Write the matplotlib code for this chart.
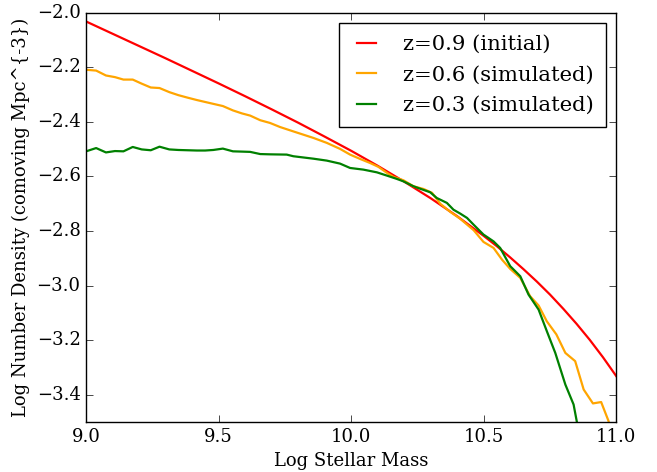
import matplotlib
matplotlib.use("Agg")
import matplotlib.pyplot as plt

# courbe initiale z=0.9
masse_init = [9.0, 9.1, 9.2, 9.3, 9.4, 9.5, 9.6, 9.7, 9.8, 9.9, 10.0,
              10.1, 10.2, 10.3, 10.4, 10.5, 10.55, 10.6, 10.65, 10.7, 10.75,
              10.8, 10.85, 10.9, 10.95, 11.0]
dens_init = [-2.032, -2.077, -2.122, -2.167, -2.213, -2.259, -2.306, -2.354, -2.403, -2.454, -2.506,
             -2.561, -2.619, -2.680, -2.746, -2.818, -2.856, -2.897, -2.940, -2.985, -3.033,
             -3.085, -3.140, -3.199, -3.263, -3.332]

# z=0.6 simulee
masse_z06 = [9.000, 9.038, 9.075, 9.109, 9.141, 9.176, 9.210, 9.244, 9.277, 9.314,
             9.348, 9.382, 9.418, 9.449, 9.480, 9.516, 9.554, 9.588, 9.619, 9.657,
             9.694, 9.732, 9.782, 9.820, 9.858, 9.908, 9.958, 9.996, 10.034, 10.072,
             10.103, 10.135, 10.160, 10.197, 10.235, 10.273, 10.305, 10.336, 10.374, 10.411,
             10.462, 10.499, 10.537, 10.569, 10.600, 10.638, 10.675, 10.707, 10.738, 10.774,
             10.808, 10.845, 10.877, 10.912, 10.943, 10.971, 10.985]
dens_z06 = [-2.209, -2.212, -2.230, -2.236, -2.245, -2.245, -2.260, -2.274, -2.276, -2.291,
            -2.302, -2.311, -2.320, -2.327, -2.334, -2.342, -2.358, -2.369, -2.377, -2.394,
            -2.404, -2.419, -2.435, -2.447, -2.459, -2.477, -2.499, -2.520, -2.536, -2.551,
            -2.565, -2.587, -2.602, -2.614, -2.636, -2.646, -2.660, -2.700, -2.730, -2.755,
            -2.797, -2.840, -2.862, -2.905, -2.939, -2.972, -3.039, -3.073, -3.131, -3.179,
            -3.247, -3.277, -3.381, -3.432, -3.427, -3.497, -3.560]

# z=0.3 simulee
masse_z03 = [9.000, 9.038, 9.075, 9.109, 9.141, 9.176, 9.210, 9.244, 9.277, 9.314,
             9.348, 9.382, 9.418, 9.449, 9.480, 9.516, 9.554, 9.588, 9.619, 9.657,
             9.694, 9.757, 9.782, 9.858, 9.908, 9.958, 9.996, 10.046, 10.097, 10.135,
             10.172, 10.197, 10.235, 10.260, 10.298, 10.323, 10.361, 10.386, 10.411, 10.437,
             10.462, 10.499, 10.537, 10.562, 10.600, 10.638, 10.669, 10.707, 10.738, 10.770,
             10.808, 10.839, 10.852, 10.860]
dens_z03 = [-2.508, -2.496, -2.512, -2.507, -2.508, -2.492, -2.501, -2.504, -2.491, -2.501,
            -2.503, -2.504, -2.505, -2.505, -2.503, -2.498, -2.508, -2.509, -2.510, -2.518,
            -2.519, -2.520, -2.526, -2.535, -2.542, -2.553, -2.569, -2.575, -2.585, -2.597,
            -2.609, -2.618, -2.636, -2.645, -2.658, -2.679, -2.697, -2.722, -2.736, -2.752,
            -2.777, -2.813, -2.838, -2.862, -2.929, -2.966, -3.033, -3.088, -3.167, -3.247,
            -3.363, -3.436, -3.503, -3.560]

labels = ["z=0.9 (initial)", "z=0.6 (simulated)", "z=0.3 (simulated)"]
x_ticks = [9.0, 9.5, 10.0, 10.5, 11.0]
y_ticks = [-3.4, -3.2, -3.0, -2.8, -2.6, -2.4, -2.2, -2.0]

plt.style.use("classic")
plt.rcParams["font.family"] = "DejaVu Serif"

fig = plt.figure(figsize=(6.57, 4.72), dpi=100, facecolor="white")
ax = fig.add_axes([0.131, 0.106, 0.807, 0.867])

ax.plot(masse_init, dens_init, color="red", lw=1.6, label=labels[0])
ax.plot(masse_z06, dens_z06, color="orange", lw=1.6, label=labels[1])
ax.plot(masse_z03, dens_z03, color="green", lw=1.6, label=labels[2])

ax.set_xlim(9.0, 11.0)
ax.set_ylim(-3.5, -2.0)
ax.set_xticks(x_ticks)
ax.set_yticks(y_ticks)
ax.tick_params(labelsize=13, length=5)
ax.set_xlabel("Log Stellar Mass", fontsize=13)
ax.set_ylabel("Log Number Density (comoving Mpc^{-3})", fontsize=13)

ax.legend(loc="upper right", fontsize=15.2, handlelength=1.5, handletextpad=1.0,
          labelspacing=0.55, borderpad=0.55, borderaxespad=0.5)

fig.savefig("out.png", dpi=100, facecolor="white")
